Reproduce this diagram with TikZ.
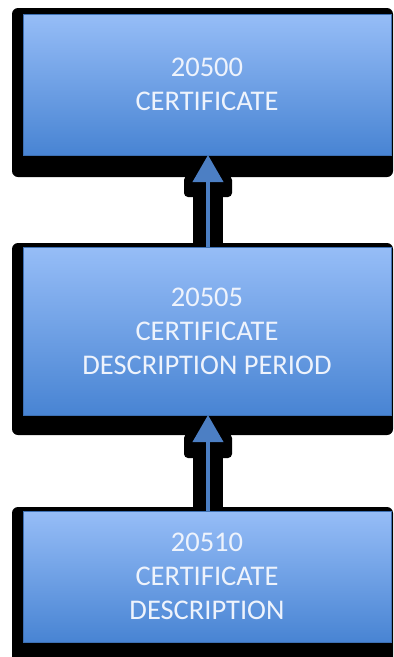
\documentclass[tikz,border=0pt]{standalone}
\usepackage{fontspec}
\setmainfont{Carlito}
\usetikzlibrary{arrows.meta}
\definecolor{boxtop}{RGB}{150,189,247}
\definecolor{boxbot}{RGB}{72,132,211}
\definecolor{arrowblue}{RGB}{76,127,196}
\definecolor{textwhite}{RGB}{238,243,252}
\tikzset{
  box/.style={minimum width=368pt, inner sep=0pt, outer sep=0pt,
    top color=boxtop, bottom color=boxbot, draw=boxbot!85!black, line width=0.4pt,
    text=textwhite, align=center, font=\fontsize{28.5}{34}\selectfont},
  shadowbox/.style={fill=black, rounded corners=6pt},
  arrowshadow/.style={line width=30pt, draw=black},
  arrowcollar/.style={fill=black, rounded corners=4pt},
  link/.style={draw=arrowblue, line width=4pt, -{Triangle[width=30pt,length=27pt]}}
}
\begin{document}
\begin{tikzpicture}[x=1pt,y=-1pt]
\useasboundingbox (0,0) rectangle (394,657);
% shadow corners
\coordinate (s1a) at (12,8);   \coordinate (s1b) at (393,177);
\coordinate (s2a) at (12,243); \coordinate (s2b) at (393,435);
\coordinate (s3a) at (12,507); \coordinate (s3b) at (393,668);
% shadows of boxes
\fill[shadowbox] (s1a) rectangle (s1b);
\fill[shadowbox] (s2a) rectangle (s2b);
\fill[shadowbox] (s3a) rectangle (s3b);
% shadows of arrows
\coordinate (a1top) at (208,176);
\coordinate (a1bot) at (208,243);
\coordinate (a2top) at (208,434);
\coordinate (a2bot) at (208,507);
\coordinate (c1a) at (184,176); \coordinate (c1b) at (232,197);
\coordinate (c2a) at (184,434); \coordinate (c2b) at (232,458);
\fill[arrowcollar] (c1a) rectangle (c1b);
\fill[arrowcollar] (c2a) rectangle (c2b);
\draw[arrowshadow] (a1bot) -- (a1top);
\draw[arrowshadow] (a2bot) -- (a2top);
% boxes
\node[box, minimum height=141pt] (b1) at (207,84.5) {20500\\CERTIFICATE};
\node[box, minimum height=168pt] (b2) at (207,331) {20505\\CERTIFICATE\\DESCRIPTION PERIOD};
\node[box, minimum height=131pt] (b3) at (207,576.5) {20510\\CERTIFICATE\\DESCRIPTION};
% arrows
\draw[link] (b2.north -| a1top) -- (b1.south -| a1top);
\draw[link] (b3.north -| a2top) -- (b2.south -| a2top);
\end{tikzpicture}
\end{document}
